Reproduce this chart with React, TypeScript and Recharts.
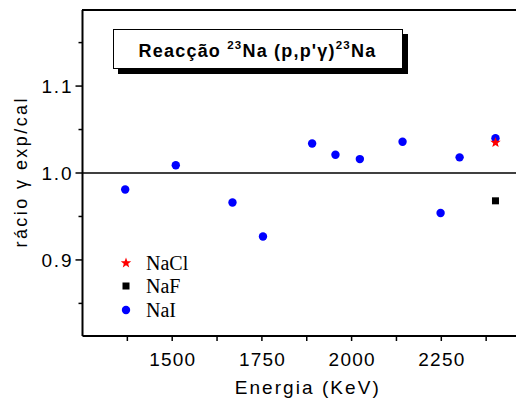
import React from 'react';
import { ScatterChart, Scatter, XAxis, YAxis, ReferenceLine, Legend } from 'recharts';

// ---- data ----
const naiEnergy = [1369, 1510, 1668, 1753, 1890, 1955, 2023, 2142, 2248, 2301, 2401];
const naiRatio = [0.981, 1.009, 0.966, 0.927, 1.034, 1.021, 1.016, 1.036, 0.954, 1.018, 1.040];
const naclEnergy = [2401];
const naclRatio = [1.035];
const nafEnergy = [2401];
const nafRatio = [0.968];

const seriesNames = ['NaCl', 'NaF', 'NaI'];
const xMajorTicks = [1500, 1750, 2000, 2250];
const xMinorTicks = [1375, 1625, 1875, 2125, 2375];
const yMajorTicks = [0.9, 1.0, 1.1];
const yMinorTicks = [0.85, 0.95, 1.05, 1.15];
const xDomain = [1250, 2500];
const yDomain = [0.8125, 1.1875];

const titleMain = 'Reacção ';
const xLabel = 'Energia (KeV)';
const yLabel = 'rácio γ exp/cal';

const toPts = (xs: number[], ys: number[]) => xs.map((x, i) => ({ x, y: ys[i] }));
const naiData = toPts(naiEnergy, naiRatio);
const naclData = toPts(naclEnergy, naclRatio);
const nafData = toPts(nafEnergy, nafRatio);

const SANS = '"Liberation Sans", Arial, sans-serif';
const SERIF = '"Liberation Serif", "Times New Roman", serif';

const xTicks = [...xMinorTicks, ...xMajorTicks].sort((a, b) => a - b);
const yTicks = [...yMinorTicks, ...yMajorTicks].sort((a, b) => a - b);

const isMajor = (v: number, arr: number[]) => arr.some((m) => Math.abs(m - v) < 1e-9);

const BottomTick = (props: any) => {
  const { x, y, payload } = props;
  const major = isMajor(payload.value, xMajorTicks);
  return (
    <g>
      <line x1={x} y1={y} x2={x} y2={y + 5} stroke="#000" strokeWidth={1.5} />
      {major && (
        <text x={x} y={y + 30} textAnchor="middle" fontFamily={SANS} fontSize={19} textLength={46} lengthAdjust="spacing" fill="#000">
          {payload.value}
        </text>
      )}
    </g>
  );
};

const LeftTick = (props: any) => {
  const { x, y, payload } = props;
  const major = isMajor(payload.value, yMajorTicks);
  return (
    <g>
      <line x1={x - (major ? 7 : 4)} y1={y} x2={x} y2={y} stroke="#000" strokeWidth={1.5} />
      {major && (
        <text x={x - 11} y={y + 7} textAnchor="end" fontFamily={SANS} fontSize={19} textLength={30} lengthAdjust="spacing" fill="#000">
          {payload.value.toFixed(1)}
        </text>
      )}
    </g>
  );
};

const Circle = (p: any) => <circle cx={p.cx} cy={p.cy} r={4.2} fill="#0000ff" />;
const Square = (p: any) => <rect x={p.cx - 3.5} y={p.cy - 3.5} width={7} height={7} fill="#000" />;
const starPath = (cx: number, cy: number, R: number) => {
  const r = R * 0.42;
  let d = '';
  for (let i = 0; i < 10; i++) {
    const a = -Math.PI / 2 + (i * Math.PI) / 5;
    const rr = i % 2 === 0 ? R : r;
    d += (i === 0 ? 'M' : 'L') + (cx + rr * Math.cos(a)).toFixed(2) + ',' + (cy + rr * Math.sin(a)).toFixed(2);
  }
  return d + 'Z';
};
const Star = (p: any) => <path d={starPath(p.cx, p.cy, 5.5)} fill="#ff0000" />;

const legendSymbols = [
  (cx: number, cy: number) => <path d={starPath(cx, cy, 5.5)} fill="#ff0000" />,
  (cx: number, cy: number) => <rect x={cx - 3.5} y={cy - 3.5} width={7} height={7} fill="#000" />,
  (cx: number, cy: number) => <circle cx={cx} cy={cy} r={4.2} fill="#0000ff" />,
];

const LegendContent = () => (
  <div>
    {seriesNames.map((n, i) => (
      <div key={n} style={{ display: 'flex', alignItems: 'center', height: 23.6 }}>
        <svg width={30} height={20} style={{ display: 'block' }}>
          {legendSymbols[i](10, 10)}
        </svg>
        <span style={{ fontFamily: SERIF, fontSize: 20, color: '#000', lineHeight: '20px' }}>{n}</span>
      </div>
    ))}
  </div>
);

const supStyle: React.CSSProperties = { fontSize: 11.5, verticalAlign: 'baseline', position: 'relative', top: -8 };

export default function App() {
  return (
    <div style={{ width: 516, height: 390, overflow: 'hidden', position: 'relative' }}>
      <ScatterChart width={531} height={390} margin={{ top: 2, right: 8, bottom: 0, left: 0 }}>
        <XAxis
          xAxisId="b"
          type="number"
          dataKey="x"
          domain={xDomain}
          ticks={xTicks}
          interval={0}
          allowDataOverflow
          tickSize={0}
          tickMargin={0}
          height={62}
          axisLine={{ stroke: '#000', strokeWidth: 2 }}
          tickLine={false}
          tick={<BottomTick />}
          label={{
            content: (lp: any) => {
              const vb = lp.viewBox;
              return (
                <text x={vb.x + vb.width / 2} y={vb.y + 58} textAnchor="middle" fontFamily={SANS} fontSize={19} textLength={144} lengthAdjust="spacing" fill="#000">
                  {xLabel}
                </text>
              );
            },
          }}
        />
        <YAxis
          yAxisId="l"
          type="number"
          dataKey="y"
          domain={yDomain}
          ticks={yTicks}
          interval={0}
          allowDataOverflow
          tickSize={0}
          tickMargin={0}
          width={74.5}
          axisLine={{ stroke: '#000', strokeWidth: 2 }}
          tickLine={false}
          tick={<LeftTick />}
          label={{
            content: (lp: any) => {
              const vb = lp.viewBox;
              const cx = 13;
              const cy = vb.y + vb.height / 2;
              return (
                <text x={cx} y={cy} transform={`rotate(-90 ${cx} ${cy})`} textAnchor="middle" dominantBaseline="central" fontFamily={SANS} fontSize={18} textLength={149} lengthAdjust="spacing" fill="#000">
                  {yLabel}
                </text>
              );
            },
          }}
        />
        <ReferenceLine xAxisId="b" yAxisId="l" y={1} stroke="#000" strokeWidth={1.5} />
        <Scatter name={seriesNames[2]} xAxisId="b" yAxisId="l" data={naiData} shape={Circle} isAnimationActive={false} />
        <Scatter name={seriesNames[1]} xAxisId="b" yAxisId="l" data={nafData} shape={Square} isAnimationActive={false} />
        <Scatter name={seriesNames[0]} xAxisId="b" yAxisId="l" data={naclData} shape={Star} isAnimationActive={false} />
        <Legend
          layout="horizontal"
          verticalAlign="middle"
          align="center"
          content={<LegendContent />}
          wrapperStyle={{ position: 'absolute', left: 108, top: 243, width: 120, height: 75 }}
        />
      </ScatterChart>
      {/* top frame of the plot box */}
      <div style={{ position: 'absolute', left: 74, top: 1, width: 460, height: 2, background: '#000' }} />
      <div
        style={{
          position: 'absolute',
          left: 104.5,
          top: 21,
          width: 288,
          height: 38,
          border: '1.5px solid #000',
          background: '#fff',
          boxShadow: '5px 5px 0 #000',
          display: 'flex',
          alignItems: 'center',
          justifyContent: 'center',
          fontFamily: SANS,
          fontWeight: 'bold',
          fontSize: 18,
          letterSpacing: 1.2,
          color: '#000',
        }}
      >
        <span style={{ whiteSpace: 'pre', marginTop: 4 }}>
          {titleMain}
          <sup style={supStyle}>23</sup>
          {'Na (p,p\'γ)'}
          <sup style={supStyle}>23</sup>
          {'Na'}
        </span>
      </div>
    </div>
  );
}
